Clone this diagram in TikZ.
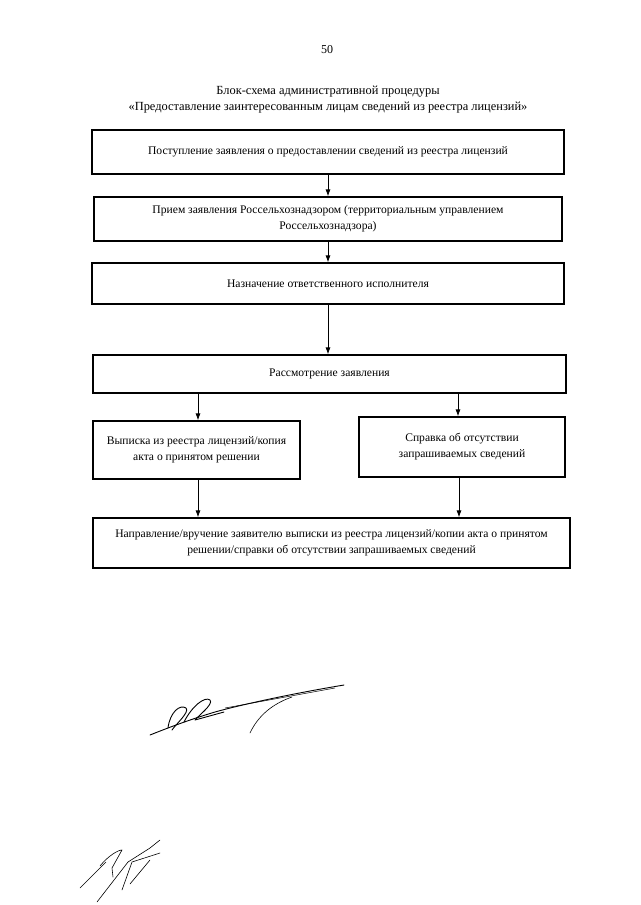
\documentclass[tikz,border=0pt]{standalone}
\usepackage{fontspec}
\setmainfont{Liberation Serif}
\usepackage{tikz}
\usetikzlibrary{arrows.meta, positioning}

\begin{document}
\begin{tikzpicture}[
  x=1pt, y=-1pt,
  >={Latex[length=7pt,width=5pt]},
  box/.style={draw, line width=1.1pt, align=center, inner sep=2pt, font=\fontsize{11.6}{16}\selectfont},
  wide/.style={box, minimum width=472pt, minimum height=44pt},
  half/.style={box, minimum width=207pt, minimum height=58pt},
  arrow/.style={->, line width=0.9pt},
  sig/.style={line width=0.9pt, line cap=round, line join=round}
]
\useasboundingbox[fill=white] (0,0) rectangle (640,905);

% header
\node (page) at (327,50) {\fontsize{12}{14}\selectfont 50};
\node[align=center, font=\fontsize{12.4}{16}\selectfont] (title) at (328,100) {Блок-схема административной процедуры\\
«Предоставление заинтересованным лицам сведений из реестра лицензий»};

% boxes
\node[wide] (incoming) at (328,152) {Поступление заявления о предоставлении сведений из реестра лицензий};
\node[wide, minimum width=468pt] (accept) at (328,219) {Прием заявления Россельхознадзором (территориальным управлением\\
Россельхознадзора)};
\node[wide, minimum height=41pt] (assign) at (328,283.5) {Назначение ответственного исполнителя};
\node[wide, minimum width=473pt, minimum height=38pt] (review) at (329.5,374) {Рассмотрение заявления};
\node[half] (extract) at (196.5,450) {Выписка из реестра лицензий/копия\\
акта о принятом решении};
\node[half, minimum width=206pt, minimum height=60pt] (notice) at (462,447) {Справка об отсутствии\\
запрашиваемых сведений};
\node[wide, minimum width=477pt, minimum height=50pt] (deliver) at (331.5,543) {Направление/вручение заявителю выписки из реестра лицензий/копии акта о принятом\\
решении/справки об отсутствии запрашиваемых сведений};

% arrows
\draw[arrow] (incoming) -- (accept);
\draw[arrow] (accept.south -| assign.north) -- (assign.north);
\draw[arrow] (assign.south) -- (assign.south |- review.north);
\draw[arrow] ([xshift=1.5pt]extract.north |- review.south) -- ([xshift=1.5pt]extract.north);
\draw[arrow] ([xshift=-4pt]notice.north |- review.south) -- ([xshift=-4pt]notice.north);
\draw[arrow] ([xshift=1.5pt]extract.south) -- ([xshift=1.5pt]extract.south |- deliver.north);
\draw[arrow] ([xshift=-3pt]notice.south) -- ([xshift=-3pt]notice.south |- deliver.north);

% signatures
\draw[sig] (150,735) .. controls (175,725) and (195,718) .. (215,712)
  .. controls (240,705) and (290,694) .. (344,685);
\draw[sig] (168,728) .. controls (170,712) and (180,704) .. (186,708)
  .. controls (190,712) and (176,724) .. (172,730);
\draw[sig] (184,722) .. controls (192,706) and (205,696) .. (210,700)
  .. controls (214,704) and (198,716) .. (195,720) -- (224,712);
\draw[sig, line width=0.6pt] (250,733) .. controls (258,716) and (272,704) .. (292,697);
\draw[sig, line width=0.5pt] (225,708) -- (335,688);

\draw[sig, line width=0.6pt] (80,888) -- (106,862);
\draw[sig, line width=0.6pt] (100,866) .. controls (108,856) and (118,850) .. (122,850)
  -- (112,868) -- (113,877);
\draw[sig, line width=0.6pt] (97,902) -- (128,862) -- (150,848) -- (160,840);
\draw[sig, line width=0.6pt] (122,890) -- (132,862) -- (160,853);
\draw[sig, line width=0.6pt] (130,884) -- (150,860);
\end{tikzpicture}
\end{document}
